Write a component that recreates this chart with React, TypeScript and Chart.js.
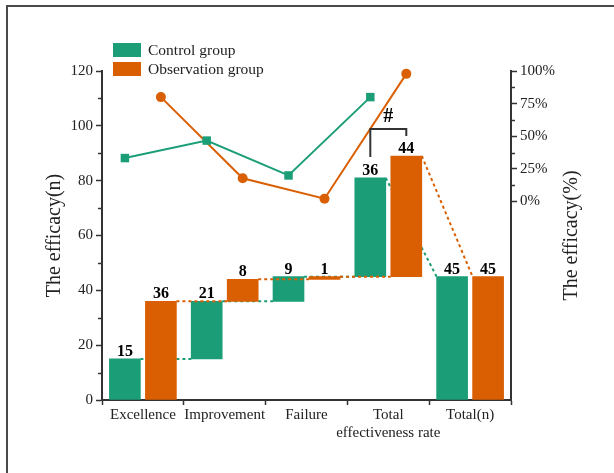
import React, { useEffect, useRef } from 'react';
import { Chart, registerables } from 'chart.js';

Chart.register(...registerables);

// ---- data ----
const categories: (string | string[])[] = ['Excellence', 'Improvement', 'Failure', ['Total', 'effectiveness rate'], 'Total(n)'];
const seriesNames = ['Control group', 'Observation group'];
const controlBars: [number, number][] = [[0, 15], [15, 36], [36, 45], [45, 81], [0, 45]];
const observationBars: [number, number][] = [[0, 36], [36, 44], [44, 45], [45, 89], [0, 45]];
const controlCounts = [15, 21, 9, 36, 45];
const observationCounts = [36, 8, 1, 44, 45];
const controlRates = [33.3, 46.7, 20, 80];
const observationRates = [80, 17.8, 2.2, 97.8];
const rightTicks = [0, 25, 50, 75, 100];
const leftMinorTicks = [10, 30, 50, 70, 90, 110];
const rightMinorTicks = [12.5, 37.5, 62.5, 87.5];
const axisTitles = ['The efficacy(n)', 'The efficacy(%)'];
const sigMark = '#';

const GREEN = '#1b9e77';
const ORANGE = '#d95f02';
const INK = '#222';
const SERIF = '"Liberation Serif", "Times New Roman", serif';
const OFF = 0.22;

const overlay = {
  id: 'overlay',
  afterDatasetDraw(chart: any, args: any) {
    const ds: any = chart.data.datasets[args.index];
    if (!ds.connector) return;
    const meta = args.meta;
    const y = chart.scales.y;
    const ctx = chart.ctx;
    const vals: [number, number][] = ds.rawBars;
    ctx.save();
    ctx.strokeStyle = ds.backgroundColor;
    ctx.lineWidth = 2;
    ctx.setLineDash([3, 3]);
    for (let i = 0; i < meta.data.length - 1; i++) {
      const a = meta.data[i];
      const b = meta.data[i + 1];
      const cur = vals[i];
      const nxt = vals[i + 1];
      const top = Math.max(cur[0], cur[1]);
      const target = Math.abs(nxt[0] - top) < Math.abs(nxt[1] - top) ? nxt[0] : nxt[1];
      ctx.beginPath();
      ctx.moveTo(a.x + a.width / 2, y.getPixelForValue(top));
      ctx.lineTo(b.x - b.width / 2, y.getPixelForValue(target));
      ctx.stroke();
    }
    ctx.restore();
  },
  afterDatasetsDraw(chart: any) {
    const ctx = chart.ctx;
    const area = chart.chartArea;
    const y = chart.scales.y;
    const y2 = chart.scales.y2;
    ctx.save();
    // value labels
    ctx.fillStyle = '#000';
    ctx.font = `bold 16px ${SERIF}`;
    ctx.textAlign = 'center';
    ctx.textBaseline = 'alphabetic';
    [0, 1].forEach((di) => {
      const meta = chart.getDatasetMeta(di);
      const lbls: number[] = (chart.data.datasets[di] as any).countLabels;
      meta.data.forEach((el: any, i: number) => {
        const top = Math.min(el.y, el.base);
        ctx.fillText(String(lbls[i]), el.x, top - 3);
      });
    });
    // significance bracket
    const g = chart.getDatasetMeta(0).data[3] as any;
    const o = chart.getDatasetMeta(1).data[3] as any;
    const gTop = Math.min(g.y, g.base);
    const oTop = Math.min(o.y, o.base);
    ctx.strokeStyle = '#333';
    ctx.lineWidth = 2;
    ctx.beginPath();
    ctx.moveTo(g.x, gTop - 21);
    ctx.lineTo(g.x, oTop - 27);
    ctx.lineTo(o.x, oTop - 27);
    ctx.lineTo(o.x, oTop - 20);
    ctx.stroke();
    ctx.fillStyle = '#000';
    ctx.font = `bold 20px ${SERIF}`;
    ctx.textBaseline = 'middle';
    ctx.fillText(sigMark, (g.x + o.x) / 2, oTop - 39);
    // minor ticks
    ctx.strokeStyle = '#333';
    ctx.lineWidth = 1.5;
    leftMinorTicks.forEach((v) => {
      const py = Math.round(y.getPixelForValue(v)) + 0.5;
      ctx.beginPath();
      ctx.moveTo(area.left - 4, py);
      ctx.lineTo(area.left, py);
      ctx.stroke();
    });
    rightMinorTicks.forEach((v) => {
      const py = Math.round(y2.getPixelForValue(v)) + 0.5;
      ctx.beginPath();
      ctx.moveTo(area.right, py);
      ctx.lineTo(area.right + 4, py);
      ctx.stroke();
    });
    // legend
    const legendColors = [GREEN, ORANGE];
    ctx.font = `15.5px ${SERIF}`;
    ctx.textAlign = 'left';
    ctx.textBaseline = 'middle';
    seriesNames.forEach((name, i) => {
      const top = 43 + i * 19;
      ctx.fillStyle = legendColors[i];
      ctx.fillRect(113, top, 28, 14);
      ctx.fillStyle = INK;
      ctx.fillText(name, 148, top + 7.5);
    });
    // axis titles
    ctx.font = `20px ${SERIF}`;
    ctx.textAlign = 'center';
    ctx.fillStyle = INK;
    const midY = (area.top + area.bottom) / 2;
    [[55, axisTitles[0]], [572, axisTitles[1]]].forEach(([x, t]: any) => {
      ctx.save();
      ctx.translate(x, midY);
      ctx.rotate(-Math.PI / 2);
      ctx.fillText(t, 0, 0);
      ctx.restore();
    });
    ctx.restore();
  },
};

export default function App() {
  const ref = useRef<HTMLCanvasElement>(null);
  useEffect(() => {
    if (!ref.current) return;
    const tickFont = { family: SERIF, size: 15 };
    const barCommon = {
      xAxisID: 'xl',
      yAxisID: 'y',
      borderWidth: 0,
      grouped: false,
      barThickness: 31,
      connector: true,
    };
    const chart = new Chart(ref.current, {
      type: 'bar',
      data: {
        labels: categories as any,
        datasets: [
          {
            ...barCommon,
            label: seriesNames[0],
            data: controlBars.map((v, i) => ({ x: i - OFF, y: v })),
            rawBars: controlBars,
            backgroundColor: GREEN,
            order: 2,
            countLabels: controlCounts,
          } as any,
          {
            ...barCommon,
            label: seriesNames[1],
            data: observationBars.map((v, i) => ({ x: i + OFF, y: v })),
            rawBars: observationBars,
            backgroundColor: ORANGE,
            order: 1,
            countLabels: observationCounts,
          } as any,
          {
            type: 'line',
            label: seriesNames[0] + ' rate',
            data: controlRates.map((v, i) => ({ x: i - OFF, y: v })),
            xAxisID: 'xl',
            yAxisID: 'y2',
            borderColor: GREEN,
            backgroundColor: GREEN,
            borderWidth: 2,
            pointStyle: 'rect',
            pointRadius: 6,
            pointBorderWidth: 0,
            clip: false,
            order: 0,
          } as any,
          {
            type: 'line',
            label: seriesNames[1] + ' rate',
            data: observationRates.map((v, i) => ({ x: i + OFF, y: v })),
            xAxisID: 'xl',
            yAxisID: 'y2',
            borderColor: ORANGE,
            backgroundColor: ORANGE,
            borderWidth: 2,
            pointStyle: 'circle',
            pointRadius: 5,
            pointBorderWidth: 0,
            clip: false,
            order: 0,
          } as any,
        ],
      },
      options: {
        responsive: false,
        animation: false,
        devicePixelRatio: 1,
        layout: { padding: { top: 71, left: 0, right: 0, bottom: 0 } },
        plugins: { legend: { display: false }, tooltip: { enabled: false } },
        scales: {
          x: {
            type: 'category',
            labels: categories as any,
            offset: true,
            grid: { drawOnChartArea: false, offset: true, tickLength: 5, tickColor: '#333', tickWidth: 1.5 },
            border: { display: true, color: '#333', width: 2 },
            ticks: { font: { ...tickFont, lineHeight: 1.2 }, color: INK, padding: 1, maxRotation: 0, autoSkip: false },
            afterFit: (s: any) => { s.height = 73; },
          },
          xl: {
            type: 'linear',
            display: false,
            offset: false,
            min: -0.5,
            max: 4.5,
            grid: { offset: false },
          },
          y: {
            type: 'linear',
            position: 'left',
            min: 0,
            max: 120,
            grid: { drawOnChartArea: false, tickLength: 6, tickColor: '#333', tickWidth: 1.5 },
            border: { display: true, color: '#333', width: 2 },
            ticks: { stepSize: 20, font: tickFont, color: INK, padding: 3 },
            afterFit: (s: any) => { s.width = 102; },
          },
          y2: {
            type: 'linear',
            position: 'right',
            min: -152,
            max: 100,
            grid: { drawOnChartArea: false, tickLength: 6, tickColor: '#333', tickWidth: 1.5 },
            border: { display: true, color: '#333', width: 2 },
            ticks: { font: tickFont, color: INK, padding: 3, callback: (v: any) => v + '%' },
            afterBuildTicks: (s: any) => { s.ticks = rightTicks.map((v) => ({ value: v })); },
            afterFit: (s: any) => { s.width = 103; },
          },
        },
      } as any,
      plugins: [overlay],
    });
    return () => chart.destroy();
  }, []);
  return (
    <div style={{ position: 'fixed', left: 0, top: 0, width: 614, height: 473, background: '#fff' }}>
      <div style={{ position: 'absolute', left: 6, top: 5, right: 0, bottom: 0, borderLeft: '2px solid #4a4a4a', borderTop: '2px solid #4a4a4a' }} />
      <canvas ref={ref} width={614} height={473} style={{ position: 'absolute', left: 0, top: 0, width: 614, height: 473 }} />
    </div>
  );
}
